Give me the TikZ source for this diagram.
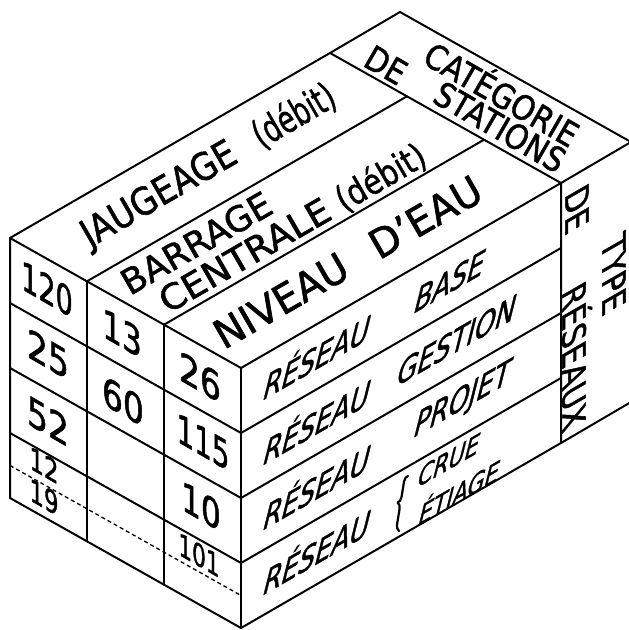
\documentclass[tikz,border=0pt]{standalone}
\usepackage{graphicx}
\usepackage{fontspec}
\setmainfont{DejaVu Sans}[FakeBold=1.5]
\usetikzlibrary{decorations.pathreplacing}
\newcommand\myfs[1]{\fontsize{#1}{#1}\selectfont}
\begin{document}
\begin{tikzpicture}[x=1pt,y=-1pt,line width=2pt,line join=round,line cap=round,
  lbl/.style={inner sep=0pt,outer sep=0pt},
  topt/.style={lbl,anchor=base west,cm={0.866,0.5,-0.5,0.866,(0,0)}},
  catt/.style={lbl,cm={0.866,-0.5,0.5,0.866,(0,0)}},
  rgtt/.style={lbl,cm={0.866,0.5,0.25,1,(0,0)}},
  lftt/.style={lbl,cm={0.866,-0.5,0,1,(0,0)}},
  typt/.style={lbl,cm={0,-1,0.866,0.5,(0,0)}},
  dsh/.style={line width=1.3pt,dash pattern=on 4pt off 3pt,line cap=butt},
  brc/.style={line width=2.2pt,decorate,decoration={brace,amplitude=6pt}}]
\useasboundingbox (0,0) rectangle (629,630);
\clip (0,0) rectangle (629,630);
% main corners
\coordinate (L) at (10,238);
\coordinate (F) at (241,368);
\coordinate (R) at (561,183);
\coordinate (B) at (330,53);
\coordinate (Lb) at (10,498);
\coordinate (Fb) at (241,628);
\coordinate (Rb) at (561,443);
% columns
\coordinate (C1) at (87,281.3);
\coordinate (C2) at (164,324.7);
\coordinate (C1b) at (87,541.3);
\coordinate (C2b) at (164,584.7);
\coordinate (D1) at (407,96.3);
\coordinate (D2) at (484,139.7);
% rows
\coordinate (L1) at (10,303); \coordinate (F1) at (241,433); \coordinate (R1) at (561,248);
\coordinate (L2) at (10,368); \coordinate (F2) at (241,498); \coordinate (R2) at (561,313);
\coordinate (L3) at (10,433); \coordinate (F3) at (241,563); \coordinate (R3) at (561,378);
% panels
\coordinate (Bw) at (400,12);
\coordinate (Rw) at (631,142);
\coordinate (Rbw) at (631,402);
% dashed
\coordinate (Dl) at (10,465.5);
\coordinate (Df) at (241,595.5);
% brace
\coordinate (br1) at (399,531);
\coordinate (br2) at (408,476);

% faces
\draw (L) -- (F) -- (R) -- (B) -- cycle;
\draw (L) -- (Lb) -- (Fb) -- (Rb) -- (R);
\draw (F) -- (Fb);
\draw (C1) -- (C1b);
\draw (C2) -- (C2b);
\draw (C1) -- (D1);
\draw (C2) -- (D2);
\draw (L1) -- (F1) -- (R1);
\draw (L2) -- (F2) -- (R2);
\draw (L3) -- (F3) -- (R3);
\draw (B) -- (Bw) -- (Rw) -- (R);
\draw (Rb) -- (Rbw);
\draw[dsh] (Dl) -- (Df);
\draw[brc] (br1) -- (br2);

% top face text
\node[topt,xscale=0.88] (jau) at (90,248) {\myfs{38}JAUGEAGE\hspace{.75em}\scalebox{0.8}[1]{(débit)}};
\node[topt,xscale=1.0] (bar) at (130,296) {\myfs{35}BARRAGE};
\node[topt,xscale=1.05] (cen) at (168,314) {\myfs{35}CENTRALE \scalebox{0.8}[1]{(débit)}};
\node[topt,xscale=0.98] (niv) at (224,350) {\myfs{40}NIVEAU\hspace{.8em}D'EAU};
% category panel
\node[catt,xscale=0.88] (cat) at (503,92) {\myfs{34}CATÉGORIE};
\node[catt,xscale=0.88] (de1) at (386,65) {\myfs{34}DE};
\node[catt,xscale=0.88] (sta) at (500,127) {\myfs{34}STATIONS};
% type panel
\node[typt,xscale=0.82] (de2) at (577,209) {\myfs{37}DE};
\node[typt,xscale=0.82] (typ) at (614,274) {\myfs{37}TYPE};
\node[typt,xscale=0.82] (res) at (577,355) {\myfs{37}RÉSEAUX};
% right face
\node[rgtt,xscale=0.82] (r0) at (318,354) {\myfs{37}RÉSEAU};
\node[rgtt,xscale=0.82] (w0) at (450,281) {\myfs{37}BASE};
\node[rgtt,xscale=0.82] (r1) at (318,419) {\myfs{37}RÉSEAU};
\node[rgtt,xscale=0.82] (w1) at (457,340) {\myfs{37}GESTION};
\node[rgtt,xscale=0.82] (r2) at (318,484) {\myfs{37}RÉSEAU};
\node[rgtt,xscale=0.82] (w2) at (462,401) {\myfs{37}PROJET};
\node[rgtt,xscale=0.82] (r3) at (318,549) {\myfs{37}RÉSEAU};
\node[rgtt,xscale=0.85] (w3a) at (449,460) {\myfs{30}CRUE};
\node[rgtt,xscale=0.85] (w3b) at (460,490) {\myfs{30}ÉTIAGE};
% left face
\node[lftt,xscale=0.78] (n120) at (47,289) {\myfs{40}120};
\node[lftt,xscale=0.9] (n13) at (122,333) {\myfs{40}13};
\node[lftt,xscale=0.95] (n26) at (200,377) {\myfs{40}26};
\node[lftt,xscale=0.95] (n25) at (48,354) {\myfs{40}25};
\node[lftt,xscale=0.95] (n60) at (123,401) {\myfs{40}60};
\node[lftt,xscale=0.8] (n115) at (203,442) {\myfs{40}115};
\node[lftt,xscale=0.95] (n52) at (48,421) {\myfs{40}52};
\node[lftt,xscale=0.9] (n10) at (201,506) {\myfs{40}10};
\node[lftt,xscale=0.85] (n12) at (44,465) {\myfs{31}12};
\node[lftt,xscale=0.85] (n19) at (44,497) {\myfs{31}19};
\node[lftt,xscale=0.8] (n101) at (199,555) {\myfs{31}101};
\end{tikzpicture}
\end{document}
